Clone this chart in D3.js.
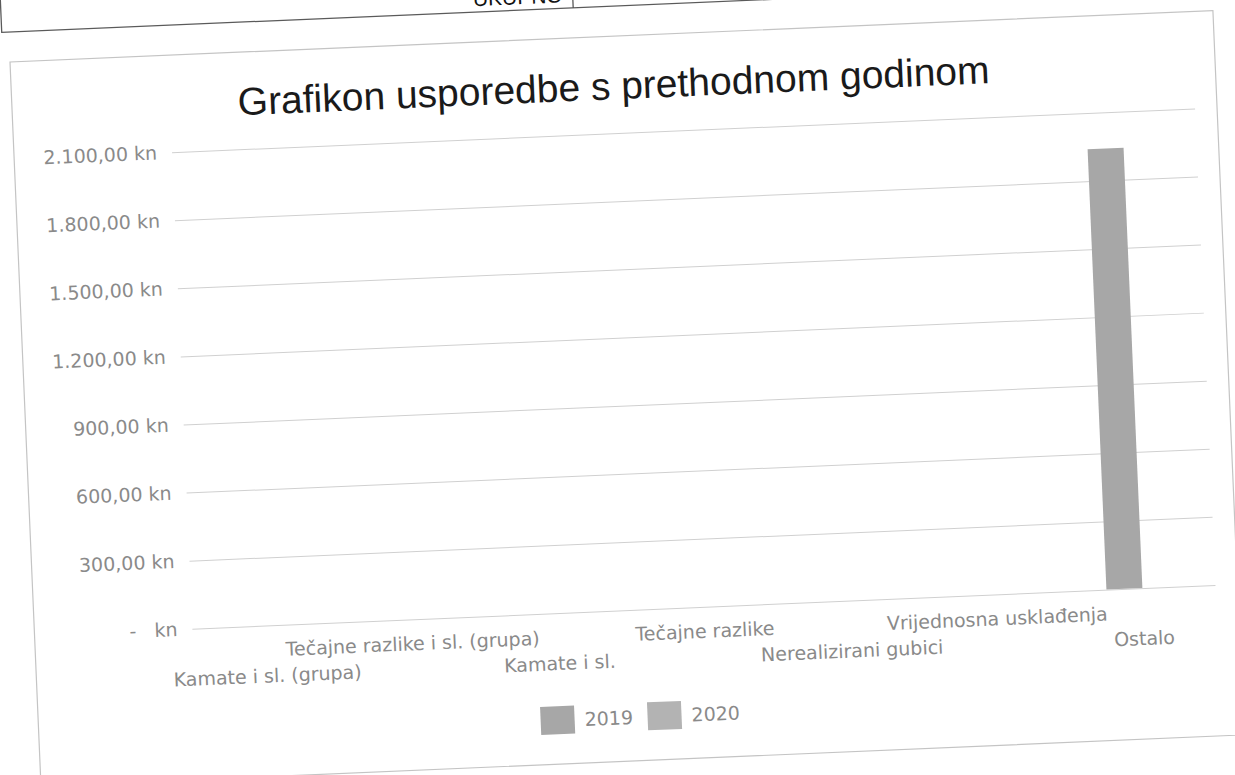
<!DOCTYPE html>
<meta charset="utf-8">
<style>

body {
  margin: 0;
  background: #fff;
}

svg {
  display: block;
}

.axis text {
  font: 19px "DejaVu Sans", sans-serif;
  fill: #8a8a8a;
}

.axis .domain {
  display: none;
}

.axis line {
  stroke: #d0d0d0;
  stroke-width: 1;
}

.cat {
  font: 19px "DejaVu Sans", sans-serif;
  fill: #8a8a8a;
  text-anchor: middle;
}

.title {
  font: 39px "Liberation Sans", Arial, sans-serif;
  fill: #1a1a1a;
  text-anchor: middle;
}

.legend text {
  font: 19px "DejaVu Sans", sans-serif;
  fill: #8a8a8a;
}

</style>
<body>
<svg width="1235" height="775"></svg>
<script src="https://d3js.org/d3.v7.min.js"></script>
<script>

// chart data
var categories = ["Kamate i sl. (grupa)", "Tečajne razlike i sl. (grupa)", "Kamate i sl.",
                  "Tečajne razlike", "Nerealizirani gubici", "Vrijednosna usklađenja", "Ostalo"];
var seriesNames = ["2019", "2020"];
var values2019 = [0, 0, 0, 0, 0, 0, 1940];
var values2020 = [0, 0, 0, 0, 0, 0, 0];
var yTicks = [0, 300, 600, 900, 1200, 1500, 1800, 2100];
var seriesColors = ["#a7a7a7", "#b3b3b3"];

var svg = d3.select("svg");

// the scanned page is slightly tilted, so everything sits in one rotated group
var page = svg.append("g")
    .attr("transform", "translate(10,62) rotate(-2.45)");

// piece of the table above the chart
page.append("path")
    .attr("d", "M-7,-130V-30H1400M565,-30V-90")
    .attr("fill", "none")
    .attr("stroke", "#5a5a5a")
    .attr("stroke-width", 1.3);

page.append("text")
    .attr("x", 555)
    .attr("y", -36)
    .attr("text-anchor", "end")
    .style("font", "21px 'Liberation Sans', Arial, sans-serif")
    .style("fill", "#111")
    .text("UKUPNO");

// chart border
page.append("rect")
    .attr("width", 1204)
    .attr("height", 725)
    .attr("fill", "#fff")
    .attr("stroke", "#c4c4c4")
    .attr("stroke-width", 1.2);

page.append("text")
    .attr("class", "title")
    .attr("x", 602)
    .attr("y", 63)
    .text("Grafikon usporedbe s prethodnom godinom");

var margin = {top: 97, left: 158},
    width = 1024,
    height = 477;

var g = page.append("g")
    .attr("transform", "translate(" + margin.left + "," + margin.top + ")");

var x0 = d3.scaleBand()
    .domain(categories)
    .range([0, width])
    .paddingInner(0.508)
    .paddingOuter(0.254);

var x1 = d3.scaleBand()
    .domain(seriesNames)
    .range([0, x0.bandwidth()]);

var y = d3.scaleLinear()
    .domain([0, 2100])
    .range([height, 0]);

var hr = d3.formatLocale({decimal: ",", thousands: ".", grouping: [3], currency: ["", " kn"]});
var fmt = hr.format(",.2f");

// y axis with gridlines
g.append("g")
    .attr("class", "axis")
    .call(d3.axisLeft(y)
      .tickValues(yTicks)
      .tickSize(-width)
      .tickPadding(15)
      .tickFormat(function(d) { return d === 0 ? "-   kn" : fmt(d) + " kn"; }))
  .selectAll("text")
    .style("white-space", "pre");

// category labels, staggered on two rows like Excel does
g.selectAll(".cat")
    .data(categories)
  .enter().append("text")
    .attr("class", "cat")
    .attr("x", function(d) { return x0(d) + x0.bandwidth() / 2; })
    .attr("y", function(d, i) { return height + (i % 2 === 0 ? 57 : 31); })
    .text(function(d) { return d; });

// bars
var rows = categories.map(function(c, i) {
  return {cat: c, vals: [values2019[i], values2020[i]]};
});

g.selectAll(".grp")
    .data(rows)
  .enter().append("g")
    .attr("class", "grp")
    .attr("transform", function(d) { return "translate(" + x0(d.cat) + ",0)"; })
  .selectAll("rect")
    .data(function(d) { return d.vals.map(function(v, j) { return {s: seriesNames[j], v: v, j: j}; }); })
  .enter().append("rect")
    .attr("x", function(d) { return x1(d.s); })
    .attr("y", function(d) { return y(d.v); })
    .attr("width", x1.bandwidth())
    .attr("height", function(d) { return height - y(d.v); })
    .attr("fill", function(d) { return seriesColors[d.j]; });

// legend
var legend = page.append("g")
    .attr("class", "legend")
    .attr("transform", "translate(502,667)");

var item = legend.selectAll("g")
    .data(seriesNames)
  .enter().append("g")
    .attr("transform", function(d, i) { return "translate(" + (i * 107) + ",0)"; });

item.append("rect")
    .attr("width", 34)
    .attr("height", 28)
    .attr("fill", function(d, i) { return seriesColors[i]; });

item.append("text")
    .attr("x", 44)
    .attr("y", 21)
    .text(function(d) { return d; });

</script>
